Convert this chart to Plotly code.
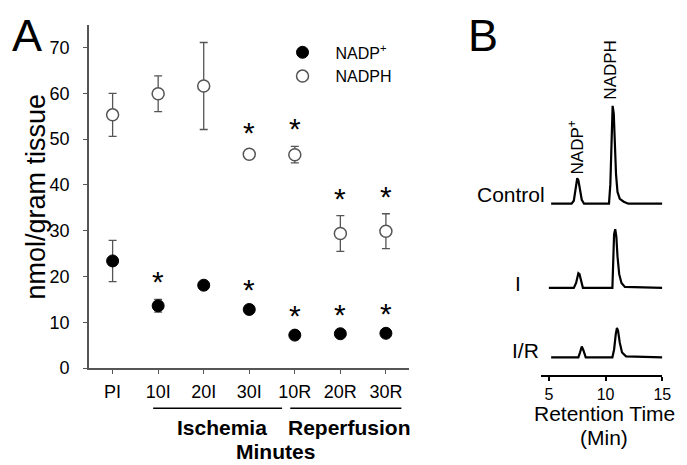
import plotly.graph_objects as go

# ---------------- Panel A data ----------------
categories = ["PI", "10I", "20I", "30I", "10R", "20R", "30R"]
nadp_vals = [23.4, 13.6, 18.1, 12.8, 7.2, 7.5, 7.6]
nadp_err = [4.5, 1.4, 0.4, 0.6, 0.4, 0.4, 0.4]
nadph_vals = [55.3, 59.9, 61.6, 46.7, 46.6, 29.4, 29.9]
nadph_err = [4.7, 3.9, 9.5, 1.0, 1.8, 3.9, 3.8]
nadp_sig = [False, True, False, True, True, True, True]
nadph_sig = [False, False, False, True, True, True, True]
y_ticks = [0, 10, 20, 30, 40, 50, 60, 70]

# ---------------- Panel B data (chromatograms) ----------------
ctrl_t = [5.2, 7.0, 7.2, 7.35, 7.5, 7.6, 7.75, 7.9, 8.1, 10.3, 10.42, 10.52, 10.62, 10.72, 10.82, 10.92, 11.05, 11.25, 11.6, 12.0, 15.0]
ctrl_s = [0, 0, 3, 15, 26, 24, 12, 4, 0, 0, 20, 72, 100, 92, 62, 30, 12, 5, 2, 0, 0]
isch_t = [5.0, 7.2, 7.4, 7.5, 7.6, 7.7, 7.85, 8.0, 10.6, 10.68, 10.75, 10.85, 10.95, 11.05, 11.2, 11.4, 11.7, 15.0]
isch_s = [0, 0, 5, 12, 15, 14, 6, 0, 0, 25, 55, 60, 52, 32, 14, 5, 1, 0]
ir_t = [5.2, 7.6, 7.75, 7.9, 8.05, 8.25, 10.6, 10.75, 10.9, 11.0, 11.1, 11.25, 11.45, 11.8, 15.0]
ir_s = [0, 0, 5, 11, 7, 0, 0, 8, 24, 30, 27, 15, 5, 1, 0]
chrom_names = ["Control", "I", "I/R"]
chrom_offsets = [175, 89, 18]
b_ticks = [5, 10, 15]

FONT = "Liberation Sans, Arial, sans-serif"
W, H = 687, 465

fig = go.Figure()

fig.add_trace(go.Scatter(
    x=categories, y=nadp_vals, mode="markers", name="NADP<sup>+</sup>",
    marker=dict(symbol="circle", size=12, color="black", line=dict(color="black", width=1)),
    error_y=dict(type="data", array=nadp_err, color="#555555", thickness=1.3, width=4),
    xaxis="x", yaxis="y"))
fig.add_trace(go.Scatter(
    x=categories, y=nadph_vals, mode="markers", name="NADPH",
    marker=dict(symbol="circle", size=12, color="white", line=dict(color="#555555", width=1.5)),
    error_y=dict(type="data", array=nadph_err, color="#555555", thickness=1.3, width=4),
    xaxis="x", yaxis="y"))

# chromatograms
for t, s, off in zip([ctrl_t, isch_t, ir_t], [ctrl_s, isch_s, ir_s], chrom_offsets):
    fig.add_trace(go.Scatter(
        x=t, y=[v + off for v in s], mode="lines", showlegend=False,
        line=dict(color="black", width=2.2), xaxis="x2", yaxis="y2"))

annotations = []
# significance asterisks
for vals, errs, sig in [(nadp_vals, nadp_err, nadp_sig), (nadph_vals, nadph_err, nadph_sig)]:
    for i, (v, e, s) in enumerate(zip(vals, errs, sig)):
        if s:
            annotations.append(dict(x=i, y=v + e, xref="x", yref="y", text="*",
                                    showarrow=False, xanchor="center", yanchor="bottom", yshift=-1,
                                    font=dict(family=FONT, size=30, color="black")))

def ann(x, y, text, size, **kw):
    d = dict(x=x / W, y=1 - y / H, xref="paper", yref="paper", text=text,
             showarrow=False, xanchor="center", yanchor="middle",
             font=dict(family=FONT, size=size, color="black"))
    d.update(kw)
    annotations.append(d)

ann(19, 0, "A", 45, yanchor="top")
ann(481, 0, "B", 45, yanchor="top")
ann(28, 193, "nmol/gram tissue", 27, textangle=-90)
ann(217, 429, "<b>Ischemia</b>", 21)
ann(346, 429, "<b>Reperfusion</b>", 21)
ann(271, 453, "<b>Minutes</b>", 21)
ann(546, 191, "Control", 21, xanchor="right")
ann(522, 282, "I", 21, xanchor="right")
ann(540, 350, "I/R", 21, xanchor="right")
ann(575, 142, "NADP<sup>+</sup>", 17, textangle=-90)
ann(611, 63, "NADPH", 17, textangle=-90)
ann(604, 414, "Retention Time", 21)
ann(604, 439, "(Min)", 21)

shapes = [
    dict(type="line", xref="x", yref="paper", x0=0.89, x1=3.72, y0=1 - 409 / H, y1=1 - 409 / H,
         line=dict(color="black", width=1.5)),
    dict(type="line", xref="x", yref="paper", x0=3.9, x1=6.34, y0=1 - 409 / H, y1=1 - 409 / H,
         line=dict(color="black", width=1.5)),
]

fig.update_layout(
    width=W, height=H, margin=dict(l=0, r=0, t=0, b=0),
    paper_bgcolor="white", plot_bgcolor="white",
    font=dict(family=FONT, color="black"),
    xaxis=dict(domain=[82 / W, 406 / W], range=[-0.52, 6.5], type="category",
               categoryorder="array", categoryarray=categories,
               showline=True, linecolor="#555555", linewidth=1.5, ticks="outside",
               ticklen=4, tickcolor="#555555", showgrid=False, zeroline=False,
               ticklabelstandoff=3, tickfont=dict(size=18, family=FONT)),
    yaxis=dict(domain=[1 - 368 / H, 1 - 17 / H], range=[0, 75], tickvals=y_ticks,
               showline=True, linecolor="#555555", linewidth=1.5, ticks="outside",
               ticklen=4, tickcolor="#555555", showgrid=False, zeroline=False,
               ticklabelstandoff=10, tickfont=dict(size=18, family=FONT)),
    xaxis2=dict(domain=[540 / W, 663 / W], range=[4.3, 15], tickvals=b_ticks,
                showline=True, linecolor="black", linewidth=2, ticks="outside",
                ticklen=4, tickcolor="black", tickwidth=2, showgrid=False, zeroline=False,
                anchor="y2", tickfont=dict(size=16, family=FONT)),
    yaxis2=dict(domain=[1 - 375 / H, 1 - 20 / H], range=[0, 355], visible=False,
                anchor="x2", showgrid=False, zeroline=False),
    showlegend=True,
    legend=dict(x=265 / W, y=1 - 28 / H, xanchor="left", yanchor="top",
                font=dict(size=16, family=FONT), bgcolor="rgba(0,0,0,0)",
                tracegroupgap=0, itemwidth=56),
    annotations=annotations, shapes=shapes,
)

fig.write_html("out.html")
